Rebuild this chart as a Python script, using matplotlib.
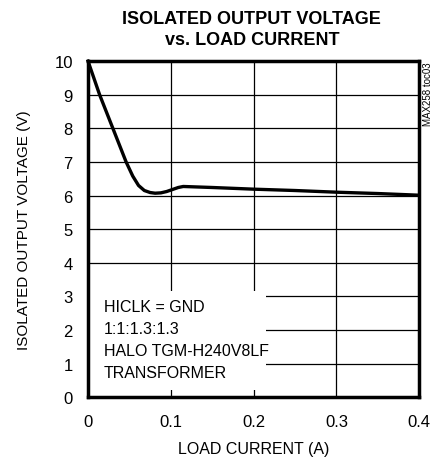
import matplotlib
matplotlib.use("Agg")
from matplotlib import pyplot as plt
from matplotlib.patches import Rectangle

plt.rcParams['font.family'] = ['Liberation Sans Narrow', 'Liberation Sans', 'DejaVu Sans']

# load current (A) vs isolated output voltage (V)
current = [0.0, 0.007, 0.014, 0.022, 0.030, 0.038, 0.046, 0.054, 0.061, 0.068,
           0.075, 0.081, 0.088, 0.095, 0.102, 0.109, 0.115, 0.15, 0.2, 0.25,
           0.3, 0.35, 0.4]
voltage = [10.0, 9.5, 9.0, 8.5, 8.0, 7.5, 7.0, 6.58, 6.30, 6.15,
           6.09, 6.07, 6.08, 6.12, 6.18, 6.24, 6.27, 6.24, 6.19, 6.15,
           6.10, 6.06, 6.01]

x_ticks = [0, 0.1, 0.2, 0.3, 0.4]
x_labels = ["0", "0.1", "0.2", "0.3", "0.4"]
y_ticks = list(range(0, 11))
note_lines = ["HICLK = GND", "1:1:1.3:1.3", "HALO TGM-H240V8LF", "TRANSFORMER"]

fig = plt.figure(figsize=(4.38, 4.64), dpi=100)
ax = fig.add_axes([0.201, 0.142, 0.756, 0.724])

ax.set_xlim(0, 0.4)
ax.set_ylim(0, 10)
ax.set_xticks(x_ticks)
ax.set_xticklabels(x_labels)
ax.set_yticks(y_ticks)
ax.grid(True, color="black", linewidth=0.9)
ax.set_axisbelow(True)
ax.tick_params(direction="out", length=0, labelsize=12)
ax.tick_params(axis="x", pad=12)
ax.tick_params(axis="y", pad=11)

for s in ax.spines.values():
    s.set_linewidth(2.5)

# white box under the notes, hides the grid
ax.add_patch(Rectangle((0.0, 0.2), 0.215, 2.95, facecolor="white",
                       edgecolor="none", zorder=2))
for i, line in enumerate(note_lines):
    ax.text(0.019, 2.7 - i * 0.66, line, fontsize=11.5, va="center", ha="left", zorder=3)

ax.plot(current, voltage, color="black", linewidth=2.4, zorder=4, clip_on=False,
        solid_joinstyle="round")

ax.set_xlabel("LOAD CURRENT (A)", fontsize=11.5, labelpad=9)
ax.set_ylabel("ISOLATED OUTPUT VOLTAGE (V)", fontsize=11, labelpad=17)
fig.text(0.575, 0.935, "ISOLATED OUTPUT VOLTAGE\nvs. LOAD CURRENT", ha="center",
         va="center", fontsize=13, fontweight="bold", linespacing=1.35)
fig.text(0.977, 0.866, "MAX258 toc03", rotation=90, ha="center", va="top", fontsize=7)

plt.savefig("out.png", dpi=100)
